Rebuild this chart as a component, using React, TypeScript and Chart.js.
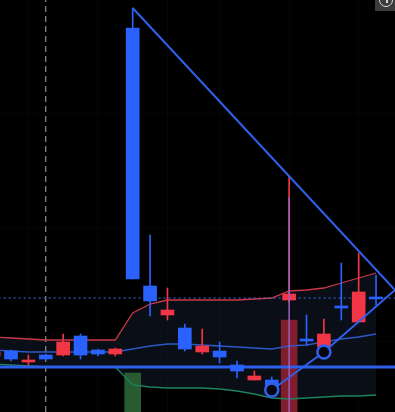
import React, { useEffect, useRef } from "react";
import { Chart, registerables } from "chart.js";

Chart.register(...registerables);

// ---- data (price units; index = bar number) ----
const candleIndex = [-1, 0, 1, 2, 3, 4, 5, 6, 7, 8, 9, 10, 11, 12, 13, 14, 15, 16, 17, 18, 19, 20, 21];
const opens = [60, 53, 52, 53, 70, 57, 58, 63, 133, 111, 102, 63, 66, 55, 41, 36, 24, 118, 71, 78, 104, 120, 113];
const closes = [56, 61, 50, 57, 57, 76, 62, 58, 384, 126, 97, 84, 60, 61, 47, 32, 32, 112, 73, 65, 106, 90, 115];
const highs = [62, 62, 57, 58, 78, 78, 63, 64, 404, 177, 124, 88, 83, 70, 51, 41, 35, 236, 97, 93, 149, 159, 137];
const lows = [54, 51, 47, 52, 56, 53, 56, 56, 133, 96, 92, 61, 58, 49, 34, 32, 23, 110, 67, 63, 92, 90, 107];

const upperBand = [75, 74, 73, 72, 72, 72, 72, 72, 99, 108, 112, 112, 112, 112, 112, 113, 114, 121, 122, 124, 129, 134, 139];
const middleBand = [62, 61, 60, 60, 60, 60, 60, 60, 63, 66, 68, 68, 67, 66, 65, 64, 63, 66, 67, 70, 73, 75, 78];
const lowerBand = [48, 47, 46, 45, 45, 45, 45, 45, 27, 25, 24, 24, 24, 23, 21, 18, 14, 13, 14, 15, 16, 16, 17];

const volumeIndex = [7, 16];
const volumeValues = [39, 92];
const volumeUp = [true, false];

const supportLevel = 45;
const dottedLevel = 114;
const dashedMarkerIndex = 2;
const cursorIndex = 16;
const cursorTop = 215;

const upperLegX = [7, 22.09];
const upperLegY = [404, 122];
const lowerLegX = [15, 18, 22.09];
const lowerLegY = [22, 60, 122];

const xGridTicks = [1, 5, 9, 12, 16, 20];
const yGridTicks = [71, 185, 299];

const BLUE = "rgb(41,98,255)";
const RED = "rgb(242,54,69)";

export default function App() {
  const ref = useRef<HTMLCanvasElement | null>(null);

  useEffect(() => {
    if (!ref.current) return;
    document.body.style.margin = "0";
    document.body.style.background = "#000";
    const up = candleIndex.map((_, i) => closes[i] >= opens[i]);
    const colors = up.map((u) => (u ? BLUE : RED));

    const bg = {
      id: "bg",
      beforeDraw(chart: any) {
        const { ctx, width, height } = chart;
        ctx.save();
        ctx.fillStyle = "#000";
        ctx.fillRect(0, 0, width, height);
        ctx.restore();
      },
    };

    const chart = new Chart(ref.current, {
      type: "bar",
      data: {
        datasets: [
          // triangle legs
          {
            type: "line",
            data: upperLegX.map((x, i) => ({ x, y: upperLegY[i] })),
            borderColor: "rgb(48,96,235)",
            borderWidth: 2,
            pointRadius: 0,
            order: 0,
          } as any,
          {
            type: "line",
            data: lowerLegX.map((x, i) => ({ x, y: lowerLegY[i] })),
            borderColor: "rgb(48,96,235)",
            borderWidth: 2,
            pointRadius: [6.5, 6.5, 0],
            pointBorderWidth: 2.5,
            pointBackgroundColor: "#05070c",
            pointBorderColor: "rgb(48,96,235)",
            order: 0,
          } as any,
          // cursor line
          {
            type: "line",
            data: [
              { x: cursorIndex, y: 0 },
              { x: cursorIndex, y: cursorTop },
            ],
            borderColor: "rgb(160,95,195)",
            borderWidth: 1.5,
            pointRadius: 0,
            order: 1,
          } as any,
          // candle bodies
          {
            type: "bar",
            data: candleIndex.map((x, i) => ({ x, y: [opens[i], closes[i]] })),
            backgroundColor: colors,
            barThickness: 13,
            grouped: false,
            order: 2,
          } as any,
          // wicks
          {
            type: "bar",
            data: candleIndex.map((x, i) => ({ x, y: [lows[i], highs[i]] })),
            backgroundColor: colors,
            barThickness: 1,
            grouped: false,
            order: 3,
          } as any,
          // support line
          {
            type: "line",
            data: [
              { x: -1, y: supportLevel },
              { x: 23, y: supportLevel },
            ],
            borderColor: "rgb(45,95,235)",
            borderWidth: 3,
            pointRadius: 0,
            order: 4,
          } as any,
          // dotted line
          {
            type: "line",
            data: [
              { x: -1, y: dottedLevel },
              { x: 23, y: dottedLevel },
            ],
            borderColor: "rgb(70,110,230)",
            borderWidth: 1,
            borderDash: [2, 3],
            pointRadius: 0,
            order: 4,
          } as any,
          // bands
          {
            type: "line",
            data: candleIndex.map((x, i) => ({ x, y: upperBand[i] })),
            borderColor: "rgb(205,55,72)",
            borderWidth: 1.3,
            pointRadius: 0,
            fill: "+2",
            backgroundColor: "rgba(20,30,52,0.45)",
            order: 5,
          } as any,
          {
            type: "line",
            data: candleIndex.map((x, i) => ({ x, y: middleBand[i] })),
            borderColor: "rgb(45,88,200)",
            borderWidth: 1.3,
            pointRadius: 0,
            order: 5,
          } as any,
          {
            type: "line",
            data: candleIndex.map((x, i) => ({ x, y: lowerBand[i] })),
            borderColor: "rgb(30,130,95)",
            borderWidth: 1.3,
            pointRadius: 0,
            order: 5,
          } as any,
          // dashed marker
          {
            type: "line",
            data: [
              { x: dashedMarkerIndex, y: 0 },
              { x: dashedMarkerIndex, y: 420 },
            ],
            borderColor: "rgba(200,200,200,0.85)",
            borderWidth: 1,
            borderDash: [6, 4],
            pointRadius: 0,
            order: 6,
          } as any,
          // volume-like bars
          {
            type: "bar",
            data: volumeIndex.map((x, i) => ({ x, y: [0, volumeValues[i]] })),
            backgroundColor: volumeUp.map((u) => (u ? "rgb(40,92,48)" : "rgb(128,30,45)")),
            barThickness: 16,
            grouped: false,
            order: 7,
          } as any,
        ],
      },
      options: {
        animation: false,
        responsive: false,
        maintainAspectRatio: false,
        devicePixelRatio: 1,
        layout: { padding: 0, autoPadding: false },
        plugins: {
          legend: { display: false },
          tooltip: { enabled: false },
          filler: { drawTime: "beforeDatasetsDraw" },
        } as any,
        scales: {
          x: {
            type: "linear",
            min: -0.633,
            max: 22.09,
            offset: false,
            ticks: { display: false },
            border: { display: false },
            grid: { color: "rgba(255,255,255,0.025)", drawTicks: false, offset: false },
            afterBuildTicks: (scale: any) => {
              scale.ticks = xGridTicks.map((v) => ({ value: v }));
            },
          },
          y: {
            type: "linear",
            min: 0,
            max: 412,
            ticks: { display: false },
            border: { display: false },
            grid: { color: "rgba(255,255,255,0.02)", drawTicks: false },
            afterBuildTicks: (scale: any) => {
              scale.ticks = yGridTicks.map((v) => ({ value: v }));
            },
          },
        } as any,
      },
      plugins: [bg],
    });
    return () => chart.destroy();
  }, []);

  return (
    <div style={{ position: "relative", width: 395, height: 412, background: "#000" }}>
      <canvas ref={ref} width={395} height={412} style={{ display: "block" }} />
      <div
        style={{
          position: "absolute",
          top: 0,
          right: 0,
          width: 20,
          height: 11,
          background: "#3c3c3c",
          overflow: "hidden",
        }}
      >
        <div
          style={{
            position: "absolute",
            left: 4,
            top: -7,
            width: 12,
            height: 12,
            borderRadius: "50%",
            border: "1.5px solid #d8d8d8",
          }}
        />
        <div
          style={{
            position: "absolute",
            left: 11,
            top: 0,
            width: 1.5,
            height: 3,
            background: "#d8d8d8",
          }}
        />
      </div>
    </div>
  );
}
